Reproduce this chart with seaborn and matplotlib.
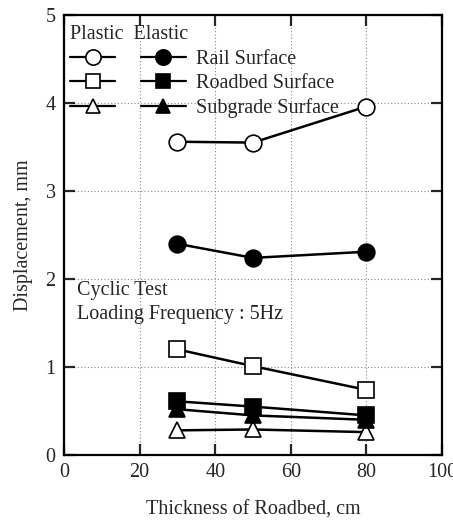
import matplotlib
matplotlib.use("Agg")
import matplotlib.pyplot as plt
from matplotlib.legend_handler import HandlerTuple
from matplotlib.lines import Line2D
import seaborn as sns
import pandas as pd

thickness = [30, 50, 80]
plastic_rail = [3.56, 3.55, 3.96]
elastic_rail = [2.40, 2.24, 2.31]
plastic_roadbed = [1.20, 1.01, 0.74]
elastic_roadbed = [0.61, 0.55, 0.45]
plastic_subgrade = [0.28, 0.29, 0.26]
elastic_subgrade = [0.52, 0.45, 0.40]

surfaces = ["Rail Surface", "Roadbed Surface", "Subgrade Surface"]
series = [
    ("Plastic", "Rail Surface", plastic_rail),
    ("Elastic", "Rail Surface", elastic_rail),
    ("Plastic", "Roadbed Surface", plastic_roadbed),
    ("Elastic", "Roadbed Surface", elastic_roadbed),
    ("Plastic", "Subgrade Surface", plastic_subgrade),
    ("Elastic", "Subgrade Surface", elastic_subgrade),
]
markers = {"Rail Surface": "o", "Roadbed Surface": "s", "Subgrade Surface": "^"}
msizes = {"Rail Surface": 12, "Roadbed Surface": 11, "Subgrade Surface": 11}

rows = []
for kind, surf, vals in series:
    for t, v in zip(thickness, vals):
        rows.append({"kind": kind, "surface": surf, "thickness": t, "disp": v})
df = pd.DataFrame(rows)

sns.set_style("ticks")
plt.rcParams["font.family"] = ["Liberation Serif", "DejaVu Serif"]
FS = 14.5

fig = plt.figure(figsize=(4.53, 5.22), dpi=100)
ax = fig.add_axes([64 / 453, 1 - 455 / 522, (442 - 64) / 453, (455 - 15) / 522])

handles = {}
for kind, surf, vals in series:
    sub = df[(df.kind == kind) & (df.surface == surf)]
    face = "white" if kind == "Plastic" else "black"
    sns.lineplot(data=sub, x="thickness", y="disp", ax=ax, color="black",
                 linewidth=1.8, marker=markers[surf], markersize=msizes[surf],
                 markerfacecolor=face, markeredgecolor="black",
                 markeredgewidth=1.2, legend=False, zorder=3)
    handles[(kind, surf)] = Line2D([], [], color="black", linewidth=1.6,
                                   marker=markers[surf], markersize=msizes[surf] - 1,
                                   markerfacecolor=face, markeredgecolor="black",
                                   markeredgewidth=1.2)

ax.set_xlim(0, 100)
ax.set_ylim(0, 5)
ax.set_xticks([0, 20, 40, 60, 80, 100])
ax.set_yticks([0, 1, 2, 3, 4, 5])
ax.grid(True, linestyle=(0, (1, 2)), color="#888888", linewidth=0.8)
ax.tick_params(direction="in", length=8, width=1.6, top=True, right=True,
               labelsize=FS, pad=6)
for s in ax.spines.values():
    s.set_linewidth(1.6)
    s.set_color("black")
ax.set_xlabel("Thickness of Roadbed, cm", fontsize=FS, labelpad=13)
ax.set_ylabel("Displacement, mm", fontsize=FS, labelpad=9)

leg_handles = [(handles[("Plastic", s)], handles[("Elastic", s)]) for s in surfaces]
leg = ax.legend(leg_handles, surfaces,
                handler_map={tuple: HandlerTuple(ndivide=None, pad=1.25)},
                handlelength=5.75, loc="upper left", bbox_to_anchor=(0.0, 0.99),
                frameon=False, fontsize=FS, title="Plastic  Elastic",
                title_fontsize=FS, alignment="left", labelspacing=0.25,
                handletextpad=0.5, borderaxespad=0.0, borderpad=0.3)

ax.text(0.035, 0.395, "Cyclic Test\nLoading Frequency : 5Hz", transform=ax.transAxes,
        fontsize=FS, va="top", ha="left", linespacing=1.35)

fig.savefig("out.png", dpi=100)
